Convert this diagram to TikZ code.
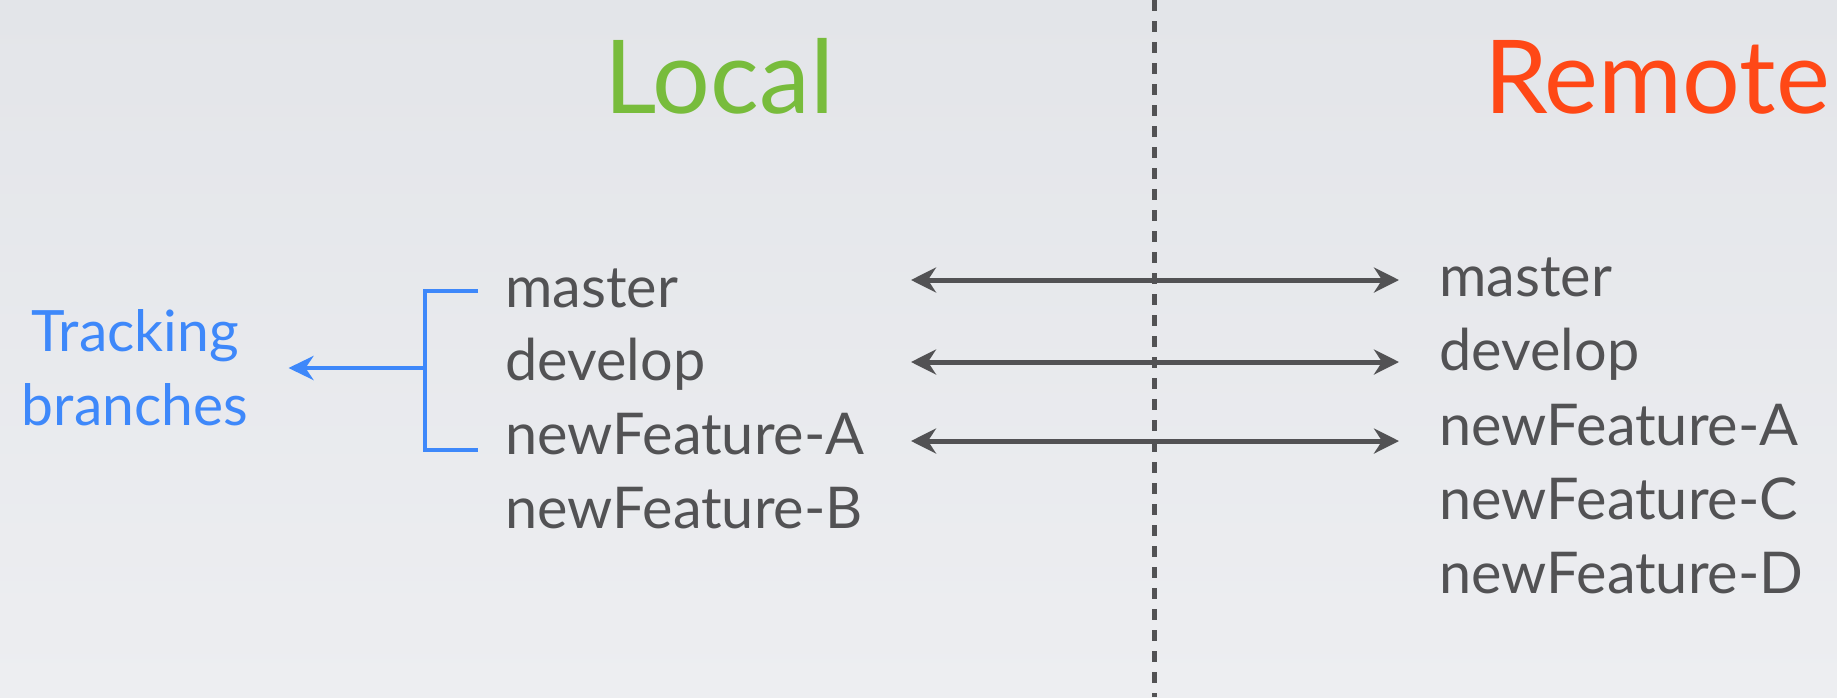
\documentclass[tikz,border=0pt]{standalone}
\usepackage{fontspec}
\setmainfont{Lato}
\usetikzlibrary{arrows.meta,positioning,calc}
\definecolor{bgtop}{RGB}{227,229,233}
\definecolor{bgbot}{RGB}{237,238,241}
\definecolor{txtgray}{RGB}{82,82,84}
\definecolor{localgreen}{RGB}{120,188,60}
\definecolor{remotered}{RGB}{255,72,22}
\definecolor{trackblue}{RGB}{62,136,250}

\begin{document}
\begin{tikzpicture}[
  x=0.5pt, y=-0.5pt,
  title/.style={font=\fontsize{51}{55}\selectfont, inner sep=0pt, anchor=base},
  branch/.style={font=\fontsize{28.8}{32}\selectfont, text=txtgray, inner sep=0pt, anchor=base west},
  track/.style={font=\fontsize{28.5}{37}\selectfont, text=trackblue, align=center, inner sep=0pt},
  biarr/.style={{Stealth[length=12.5pt, width=12.5pt, inset=4pt]}-{Stealth[length=12.5pt, width=12.5pt, inset=4pt]}, line width=2.5pt, draw=txtgray},
  arr/.style={-{Stealth[length=12.5pt, width=12pt, inset=4pt]}, line width=2.2pt, draw=trackblue},
  divider/.style={draw=txtgray, line width=2.5pt, dash pattern=on 5.5pt off 5pt}
]
% ---------- Background ----------
\useasboundingbox (0,0) rectangle (1837,697);
\shade[top color=bgtop, bottom color=bgbot] (0,0) rectangle (1837,697);

% ---------- Divider ----------
\coordinate (divtop) at (1154,0);
\coordinate (divbot) at (1154,697);
\draw[divider] (divtop) -- (divbot);

% ---------- Titles ----------
\node[title, text=localgreen] (local) at (719,113) {Local};
\node[title, text=remotered] (remote) at (1657,113) {Remote};

% ---------- Local branches ----------
\node[branch] (lmaster) at (505,307) {master};
\node[branch] (ldevelop) at (505,380) {develop};
\node[branch] (lfeatA) at (505,454) {newFeature-A};
\node[branch] (lfeatB) at (505,528) {newFeature-B};

% ---------- Remote branches ----------
\node[branch] (rmaster) at (1439,296) {master};
\node[branch] (rdevelop) at (1439,370) {develop};
\node[branch] (rfeatA) at (1439,445) {newFeature-A};
\node[branch] (rfeatC) at (1439,519) {newFeature-C};
\node[branch] (rfeatD) at (1439,593) {newFeature-D};

% ---------- Tracking links ----------
\coordinate (m1) at (911,280);  \coordinate (m2) at (1399,280);
\coordinate (d1) at (911,362);  \coordinate (d2) at (1399,362);
\coordinate (a1) at (911,441);  \coordinate (a2) at (1399,441);
\draw[biarr] (m1) -- (m2);
\draw[biarr] (d1) -- (d2);
\draw[biarr] (a1) -- (a2);

% ---------- Tracking bracket ----------
\node[track] (tracking) at (135,368) {Tracking\\branches};
\coordinate (brtop) at (478,291);
\coordinate (brbot) at (478,450);
\coordinate (brmid) at (425,368);
\draw[trackblue, line width=2.2pt] (brtop) -- (brtop -| brmid) -- (brbot -| brmid) -- (brbot);
\draw[arr, shorten >=20pt] (brmid) -- (brmid -| tracking.east);
\end{tikzpicture}
\end{document}
